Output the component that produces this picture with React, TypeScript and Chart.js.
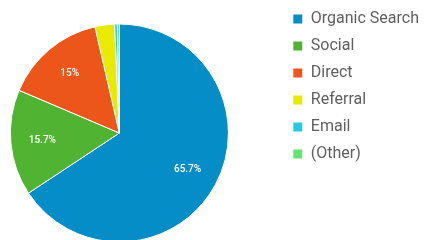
import React, { useEffect, useRef } from "react";
import { Chart, registerables } from "chart.js";

Chart.register(...registerables);

const categories = ["Organic Search", "Social", "Direct", "Referral", "Email", "(Other)"];
const shares = [65.7, 15.7, 15, 2.9, 0.4, 0.3];
const shareLabels = ["65.7%", "15.7%", "15%", "", "", ""];
const colors = ["#058dc7", "#50b432", "#ed561b", "#e8ea00", "#24cbe5", "#64e572"];

const SHIFT_X = 43;
const EXTRA_H = 26;

const sliceLabels = {
  id: "sliceLabels",
  afterDatasetsDraw(chart: any) {
    const meta = chart.getDatasetMeta(0);
    const ctx = chart.ctx;
    ctx.save();
    ctx.fillStyle = "#ffffff";
    ctx.font = "500 10px Roboto";
    ctx.textAlign = "center";
    ctx.textBaseline = "middle";
    meta.data.forEach((arc: any, i: number) => {
      const text = shareLabels[i];
      if (!text) return;
      const p = arc.getProps(["x", "y", "startAngle", "endAngle", "outerRadius"], true);
      const mid = (p.startAngle + p.endAngle) / 2;
      const r = p.outerRadius * 0.71;
      ctx.fillText(text, p.x + Math.cos(mid) * r, p.y + Math.sin(mid) * r);
    });
    ctx.restore();
  },
};

export default function App() {
  const ref = useRef<HTMLCanvasElement | null>(null);
  useEffect(() => {
    if (!ref.current) return;
    const chart = new Chart(ref.current, {
      type: "pie",
      data: {
        labels: categories,
        datasets: [
          {
            data: shares,
            backgroundColor: colors,
            borderColor: "#ffffff",
            borderWidth: 1,
            radius: 109,
          } as any,
        ],
      },
      options: {
        responsive: false,
        animation: false,
        layout: { padding: { left: 0, right: 0, top: 0, bottom: 0 } },
        plugins: {
          tooltip: { enabled: false },
          legend: {
            position: "right",
            align: "start",
            labels: {
              boxWidth: 10,
              boxHeight: 10,
              padding: 11,
              color: "#5f5f5f",
              font: { family: "Roboto", size: 16 },
            },
          },
        },
      },
      plugins: [sliceLabels],
    });
    return () => chart.destroy();
  }, []);
  return (
    <div style={{ position: "fixed", left: 0, top: 0, width: 429, height: 240, overflow: "hidden", background: "#fff" }}>
      <canvas
        ref={ref}
        width={429 + SHIFT_X}
        height={240 + EXTRA_H}
        style={{ position: "absolute", left: -SHIFT_X, top: 0, width: 429 + SHIFT_X, height: 240 + EXTRA_H }}
      />
    </div>
  );
}
